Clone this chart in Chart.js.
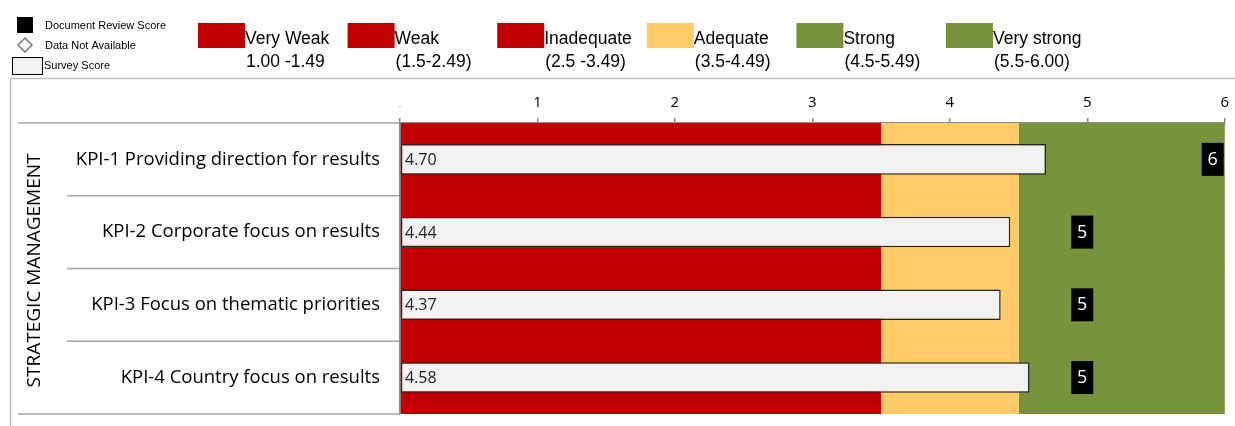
<!DOCTYPE html>
<html>
<head>
<meta charset="utf-8">
<script src="https://cdn.jsdelivr.net/npm/chart.js@4.4.1/dist/chart.umd.min.js"></script>
<style>
  html, body { margin: 0; padding: 0; background: #fff; }
  #wrap { width: 1235px; height: 426px; position: relative; }
</style>
</head>
<body>
<div id="wrap"><canvas id="kpiChart"></canvas></div>
<script>
// chart data
const categories = [
  "KPI-1 Providing direction for results",
  "KPI-2 Corporate focus on results",
  "KPI-3 Focus on thematic priorities",
  "KPI-4 Country focus on results",
];
const surveyScores = [4.7, 4.44, 4.37, 4.58];
const documentScores = [6, 5, 5, 5];
const bandRed = [3.5, 3.5, 3.5, 3.5];
const bandYellow = [1, 1, 1, 1];
const bandGreen = [1.5, 1.5, 1.5, 1.5];
const tickLabels = ["-", "1", "2", "3", "4", "5", "6"];
const ratingNames = ["Very Weak", "Weak", "Inadequate", "Adequate", "Strong", "Very strong"];
const ratingRanges = ["1.00 -1.49", "(1.5-2.49)", "(2.5 -3.49)", "(3.5-4.49)", "(4.5-5.49)", "(5.5-6.00)"];
const ratingColors = ["#c00000", "#c00000", "#c00000", "#ffcb66", "#77933c", "#77933c"];
const groupLabel = "STRATEGIC MANAGEMENT";

const RED = "#c00000";
const YELLOW = "#ffcb66";
const GREEN = "#77933c";
const calibri = "'Open Sans', 'Noto Sans', sans-serif";
const arial = "'Liberation Sans', Arial, sans-serif";

const decorPlugin = {
  id: "decor",
  beforeDraw(chart) {
    const ctx = chart.ctx;
    const y = chart.scales.y;
    const left = chart.chartArea.left;
    const top = chart.chartArea.top;
    const bottom = chart.chartArea.bottom;
    ctx.save();

    // outer frame
    ctx.strokeStyle = "#bfbfbf";
    ctx.lineWidth = 1.5;
    ctx.beginPath();
    ctx.moveTo(10.5, 430);
    ctx.lineTo(10.5, 78.5);
    ctx.lineTo(1240, 78.5);
    ctx.stroke();

    // label panel lines
    ctx.strokeStyle = "#a6a6a6";
    ctx.lineWidth = 1.5;
    ctx.beginPath();
    ctx.moveTo(18, top);
    ctx.lineTo(left, top);
    ctx.moveTo(18, bottom);
    ctx.lineTo(left, bottom);
    const step = y.getPixelForValue(1) - y.getPixelForValue(0);
    for (let i = 0; i < categories.length - 1; i++) {
      const py = y.getPixelForValue(i) + step / 2;
      ctx.moveTo(67, py);
      ctx.lineTo(left, py);
    }
    ctx.stroke();

    // rotated group label
    ctx.fillStyle = "#000";
    ctx.font = "19px " + calibri;
    ctx.textAlign = "center";
    ctx.textBaseline = "middle";
    ctx.translate(35, (top + bottom) / 2 + 2);
    ctx.rotate(-Math.PI / 2);
    ctx.fillText(groupLabel, 0, 0);
    ctx.setTransform(1, 0, 0, 1, 0, 0);

    // small marker legend
    ctx.textAlign = "left";
    ctx.font = "11px " + arial;
    ctx.fillStyle = "#000";
    ctx.fillRect(17, 17, 16, 16);
    ctx.fillText("Document Review Score", 45, 26);
    ctx.strokeStyle = "#777";
    ctx.lineWidth = 1.5;
    ctx.beginPath();
    ctx.moveTo(25, 38);
    ctx.lineTo(32, 45);
    ctx.lineTo(25, 52);
    ctx.lineTo(18, 45);
    ctx.closePath();
    ctx.stroke();
    ctx.fillText("Data Not Available", 45, 46);
    ctx.fillStyle = "#f2f2f2";
    ctx.fillRect(12, 57, 30, 18);
    ctx.strokeStyle = "#000";
    ctx.lineWidth = 1;
    ctx.strokeRect(12.5, 57.5, 30, 17);
    ctx.fillStyle = "#000";
    ctx.fillText("Survey Score", 44, 66);

    // rating legend
    ctx.font = "17.5px " + arial;
    ratingNames.forEach((name, i) => {
      const x0 = 198 + i * 149.6;
      ctx.fillStyle = ratingColors[i];
      ctx.fillRect(x0, 23, 47, 25);
      ctx.fillStyle = "#000";
      ctx.fillText(name, x0 + 47, 39);
      ctx.fillText(ratingRanges[i], x0 + 48, 62);
    });
    ctx.restore();
  },
  afterDatasetsDraw(chart) {
    const ctx = chart.ctx;
    const x = chart.scales.x;
    const y = chart.scales.y;
    ctx.save();
    ctx.textBaseline = "middle";

    // survey score labels
    ctx.font = "16px " + calibri;
    ctx.fillStyle = "#222";
    ctx.textAlign = "left";
    surveyScores.forEach((v, i) => {
      ctx.fillText(v.toFixed(2), x.getPixelForValue(0) + 5, y.getPixelForValue(i) + 1);
    });

    // document review score boxes
    ctx.font = "18px " + calibri;
    ctx.textAlign = "center";
    documentScores.forEach((v, i) => {
      let cx = x.getPixelForValue(v) - 5;
      cx = Math.min(cx, chart.chartArea.right - 12);
      const cy = y.getPixelForValue(i) - 0.5;
      ctx.fillStyle = "#000";
      ctx.fillRect(cx - 11, cy - 16, 22, 33);
      ctx.fillStyle = "#fff";
      ctx.fillText(String(v), cx, cy + 1);
    });
    ctx.restore();
  },
};

new Chart(document.getElementById("kpiChart"), {
  type: "bar",
  data: {
    labels: categories,
    datasets: [
      {
        label: "Survey Score",
        data: surveyScores,
        stack: "survey",
        grouped: false,
        backgroundColor: "#f2f2f2",
        borderColor: "#262626",
        borderWidth: 1.5,
        borderSkipped: false,
        barPercentage: 0.42,
        categoryPercentage: 1,
      },
      {
        label: "Inadequate or below",
        data: bandRed,
        stack: "bands",
        grouped: false,
        backgroundColor: RED,
        borderColor: RED,
        borderWidth: 0.5,
        barPercentage: 1,
        categoryPercentage: 1,
      },
      {
        label: "Adequate",
        data: bandYellow,
        stack: "bands",
        grouped: false,
        backgroundColor: YELLOW,
        borderColor: YELLOW,
        borderWidth: 0.5,
        barPercentage: 1,
        categoryPercentage: 1,
      },
      {
        label: "Strong",
        data: bandGreen,
        stack: "bands",
        grouped: false,
        backgroundColor: GREEN,
        borderColor: GREEN,
        borderWidth: 0.5,
        barPercentage: 1,
        categoryPercentage: 1,
      },
    ],
  },
  options: {
    indexAxis: "y",
    responsive: true,
    maintainAspectRatio: false,
    animation: false,
    layout: { padding: { top: 0, right: 8, bottom: 12, left: 0 } },
    plugins: {
      legend: { display: false },
      tooltip: { enabled: false },
    },
    scales: {
      x: {
        position: "top",
        stacked: true,
        min: 0,
        max: 6,
        afterFit: (scale) => {
          scale.height = 123;
        },
        ticks: {
          stepSize: 1,
          padding: 6,
          callback: (value, index) => tickLabels[index],
          color: (c) => (c.index === 0 ? "#aaa" : "#000"),
          font: (c) => ({ family: calibri, size: c.index === 0 ? 9 : 15 }),
        },
        grid: {
          drawOnChartArea: false,
          drawTicks: true,
          tickLength: 5,
          color: "#888",
          lineWidth: 1.5,
        },
        border: { color: "#8c8c8c", width: 2.5 },
      },
      y: {
        stacked: true,
        afterFit: (scale) => {
          scale.width = 400;
        },
        ticks: {
          padding: 1,
          color: "#000",
          font: { family: calibri, size: 18.5 },
        },
        grid: {
          drawOnChartArea: false,
          drawTicks: true,
          tickLength: 19,
          tickColor: "rgba(0,0,0,0)",
        },
        border: { color: "#8c8c8c", width: 2 },
      },
    },
  },
  plugins: [decorPlugin],
});
</script>
</body>
</html>
